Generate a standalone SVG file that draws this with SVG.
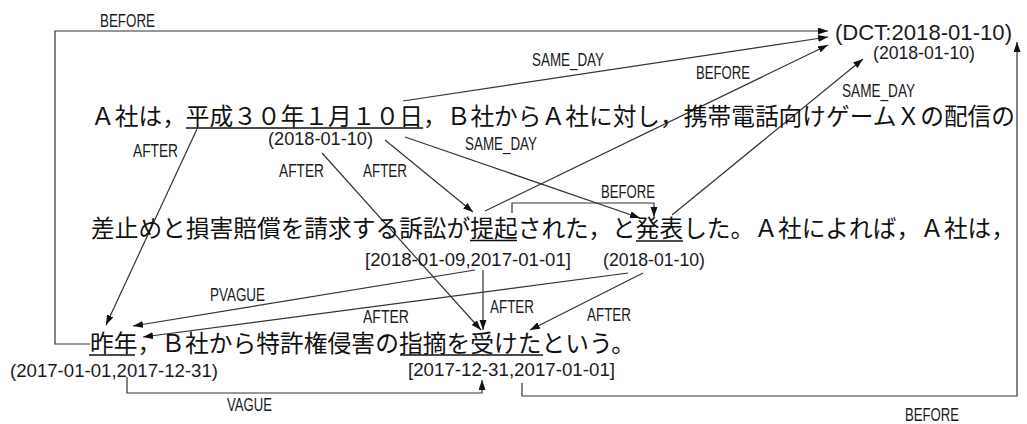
<svg xmlns="http://www.w3.org/2000/svg" width="1027" height="424" viewBox="0 0 1027 424">
<style>
.jp{font-family:"Noto Sans CJK JP","Noto Sans CJK SC",sans-serif;font-size:23.7px;fill:#111}
.lb{font-family:"Liberation Sans","DejaVu Sans",sans-serif;font-size:18.5px;fill:#1a1a22}
.big{font-size:22px}
.c{fill:none;stroke:#333;stroke-width:1.2}
.ul{stroke:#111;stroke-width:1.3}
</style>
<defs>
<marker id="ah" markerUnits="userSpaceOnUse" markerWidth="11" markerHeight="8" refX="10" refY="3.5" orient="auto">
<path d="M0,0 L10,3.5 L0,7 z" fill="#111"/>
</marker>
</defs>
<rect width="1027" height="424" fill="#fff"/>

<g id="connectors">
<polyline class="c" points="90,344 55,344 55,31 828,31" marker-end="url(#ah)"/>
<line class="c" x1="403" y1="101" x2="828" y2="37" marker-end="url(#ah)"/>
<line class="c" x1="485" y1="211" x2="828" y2="45" marker-end="url(#ah)"/>
<line class="c" x1="672" y1="215" x2="863" y2="59" marker-end="url(#ah)"/>
<polyline class="c" points="522,383 522,396 1017,396 1017,42" marker-end="url(#ah)"/>
<polyline class="c" points="127,377 127,393 482,393 482,380" marker-end="url(#ah)"/>
<line class="c" x1="197" y1="129" x2="106" y2="325" marker-end="url(#ah)"/>
<line class="c" x1="385" y1="140" x2="473" y2="212" marker-end="url(#ah)"/>
<line class="c" x1="322" y1="153" x2="481" y2="330" marker-end="url(#ah)"/>
<line class="c" x1="405" y1="137" x2="640" y2="218" marker-end="url(#ah)"/>
<polyline class="c" points="512,213 512,203 654,203 654,217" marker-end="url(#ah)"/>
<line class="c" x1="483" y1="270" x2="483" y2="330" marker-end="url(#ah)"/>
<line class="c" x1="475" y1="270" x2="133" y2="326" marker-end="url(#ah)"/>
<line class="c" x1="628" y1="273" x2="143" y2="337" marker-end="url(#ah)"/>
<line class="c" x1="643" y1="273" x2="530" y2="330" marker-end="url(#ah)"/>
</g>

<g id="edge-labels" class="lb">
<text x="100" y="27" textLength="55" lengthAdjust="spacingAndGlyphs">BEFORE</text>
<text x="532" y="66" textLength="72" lengthAdjust="spacingAndGlyphs">SAME_DAY</text>
<text x="696" y="79" textLength="54" lengthAdjust="spacingAndGlyphs">BEFORE</text>
<text x="842" y="97" textLength="73" lengthAdjust="spacingAndGlyphs">SAME_DAY</text>
<text x="133" y="157" textLength="45" lengthAdjust="spacingAndGlyphs">AFTER</text>
<text x="279" y="177" textLength="45" lengthAdjust="spacingAndGlyphs">AFTER</text>
<text x="363" y="177" textLength="44" lengthAdjust="spacingAndGlyphs">AFTER</text>
<text x="465" y="150" textLength="72" lengthAdjust="spacingAndGlyphs">SAME_DAY</text>
<text x="601" y="198" textLength="54" lengthAdjust="spacingAndGlyphs">BEFORE</text>
<text x="210" y="301" textLength="55" lengthAdjust="spacingAndGlyphs">PVAGUE</text>
<text x="363" y="323" textLength="46" lengthAdjust="spacingAndGlyphs">AFTER</text>
<text x="490" y="313" textLength="44" lengthAdjust="spacingAndGlyphs">AFTER</text>
<text x="587" y="321" textLength="44" lengthAdjust="spacingAndGlyphs">AFTER</text>
<text x="227" y="411" textLength="45" lengthAdjust="spacingAndGlyphs">VAGUE</text>
<text x="905" y="421" textLength="54" lengthAdjust="spacingAndGlyphs">BEFORE</text>
</g>

<g id="dct">
<text class="lb big" x="835" y="39.5" textLength="177" lengthAdjust="spacingAndGlyphs">(DCT:2018-01-10)</text>
<text class="lb" x="873" y="58.5" textLength="102" lengthAdjust="spacingAndGlyphs">(2018-01-10)</text>
</g>

<g id="sentence1">
<text class="jp" x="91" y="124.5" textLength="924" lengthAdjust="spacing">Ａ社は，平成３０年１月１０日，Ｂ社からＡ社に対し，携帯電話向けゲームＸの配信の</text>
</g>
<g id="t-heisei">
<line class="ul" x1="186" y1="128" x2="423" y2="128"/>
<text class="lb" x="268" y="145" textLength="105" lengthAdjust="spacingAndGlyphs">(2018-01-10)</text>
</g>

<g id="sentence2">
<text class="jp" x="91" y="237" textLength="924" lengthAdjust="spacing">差止めと損害賠償を請求する訴訟が提起された，と発表した。Ａ社によれば，Ａ社は，</text>
</g>
<g id="e-teiki">
<line class="ul" x1="470" y1="240.5" x2="517" y2="240.5"/>
<text class="lb" x="365" y="266" textLength="206" lengthAdjust="spacingAndGlyphs">[2018-01-09,2017-01-01]</text>
</g>
<g id="e-happyo">
<line class="ul" x1="636" y1="241" x2="683" y2="241"/>
<text class="lb" x="603" y="266" textLength="102" lengthAdjust="spacingAndGlyphs">(2018-01-10)</text>
</g>

<g id="sentence3">
<text class="jp" x="90" y="351.5" textLength="545" lengthAdjust="spacing">昨年，Ｂ社から特許権侵害の指摘を受けたという。</text>
</g>
<g id="t-sakunen">
<line class="ul" x1="89" y1="355" x2="135" y2="355"/>
<text class="lb" x="10" y="377" textLength="208" lengthAdjust="spacingAndGlyphs">(2017-01-01,2017-12-31)</text>
</g>
<g id="e-shiteki">
<line class="ul" x1="400" y1="355" x2="543" y2="355"/>
<text class="lb" x="408" y="375.5" textLength="207" lengthAdjust="spacingAndGlyphs">[2017-12-31,2017-01-01]</text>
</g>
</svg>
